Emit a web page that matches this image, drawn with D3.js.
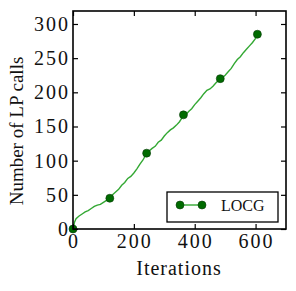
<!DOCTYPE html>
<html><head><meta charset="utf-8">
<script src="https://cdn.jsdelivr.net/npm/d3@7"></script>
<style>body{margin:0;background:#fff}svg{display:block}</style>
</head><body>
<svg id="c" width="296" height="291"></svg>
<script>
// Line data (iterations, number of LP calls)
const iters = [0,5,10,20,30,40,50,60,70,80,90,100,110,120,130,140,150,160,170,180,190,200,210,220,230,240,250,260,270,280,290,300,310,320,330,340,350,360,370,380,390,400,410,420,430,440,450,460,470,480,490,500,510,520,530,540,550,560,570,580,590,600,606];
const calls = [0,10,15,19,22,25,27,30,33,35,36,39,42,45,50,54,58,64,68,74,77,82,88,95,101,109,114,118,121,127,130,136,141,145,148,152,157,164,167,172,176,182,187,192,198,203,205,209,214,218,221,225,230,235,242,248,252,258,263,268,273,279,285];
// Marker points
const markIters = [0,121,242,363,484,606];
const markCalls = [0,45,111,167,220,285];
const xTicks = [0,200,400,600];
const yTicks = [0,50,100,150,200,250,300];
const seriesName = "LOCG";

const svg = d3.select("#c");
const L=73, R=286, T=11, B=229;
const x = d3.scaleLinear().domain([0,700]).range([L,R]);
const y = d3.scaleLinear().domain([0,319]).range([B,T]);
const font = "'Liberation Serif','Times New Roman',serif";

// line
const line = d3.line().x((d,i)=>x(iters[i])).y((d,i)=>y(calls[i]));
svg.append("path").datum(calls).attr("d",line)
  .attr("fill","none").attr("stroke","#33a833").attr("stroke-width",1.4);

// markers
svg.selectAll("circle.m").data(markCalls).enter().append("circle")
  .attr("cx",(d,i)=>x(markIters[i])).attr("cy",d=>y(d)).attr("r",4)
  .attr("fill","#006b00").attr("stroke","#0a3a0a").attr("stroke-width",0.6);

// axes (ticks inward, mirrored)
const tickStyle = g=>{g.select(".domain").remove();g.selectAll("line").attr("stroke","#000").attr("stroke-width",1.2);g.selectAll("text").remove();};
svg.append("g").attr("transform",`translate(0,${B})`).call(d3.axisBottom(x).tickValues(xTicks).tickSizeInner(-5).tickSizeOuter(0)).call(tickStyle);
svg.append("g").attr("transform",`translate(0,${T})`).call(d3.axisTop(x).tickValues(xTicks).tickSizeInner(-5).tickSizeOuter(0)).call(tickStyle);
svg.append("g").attr("transform",`translate(${L},0)`).call(d3.axisLeft(y).tickValues(yTicks).tickSizeInner(-5).tickSizeOuter(0)).call(tickStyle);
svg.append("g").attr("transform",`translate(${R},0)`).call(d3.axisRight(y).tickValues(yTicks).tickSizeInner(-5).tickSizeOuter(0)).call(tickStyle);

svg.append("rect").attr("x",L).attr("y",T).attr("width",R-L).attr("height",B-T)
  .attr("fill","none").attr("stroke","#000").attr("stroke-width",1.6);

// tick labels
svg.selectAll("text.xt").data(xTicks).enter().append("text")
  .attr("x",d=>x(d)+1).attr("y",B+19).attr("text-anchor","middle").attr("letter-spacing",2)
  .attr("font-family",font).attr("font-size",20).attr("fill","#111").text(d=>d);
svg.selectAll("text.yt").data(yTicks).enter().append("text")
  .attr("x",L-3).attr("y",d=>y(d)+7).attr("text-anchor","end").attr("letter-spacing",2)
  .attr("font-family",font).attr("font-size",20).attr("fill","#111").text(d=>d);

// axis titles
svg.append("text").attr("x",179).attr("y",275).attr("text-anchor","middle").attr("letter-spacing",1)
  .attr("font-family",font).attr("font-size",20).attr("fill","#111").text("Iterations");
svg.append("text").attr("transform","translate(23,131) rotate(-90)").attr("text-anchor","middle")
  .attr("font-family",font).attr("font-size",19).attr("fill","#111").text("Number of LP calls");

// legend
svg.append("rect").attr("x",167).attr("y",192).attr("width",111).attr("height",30)
  .attr("fill","#fff").attr("stroke","#000").attr("stroke-width",1.3);
svg.append("line").attr("x1",180).attr("x2",202).attr("y1",205).attr("y2",205)
  .attr("stroke","#33a833").attr("stroke-width",1.4);
svg.selectAll("circle.l").data([180,202]).enter().append("circle")
  .attr("cx",d=>d).attr("cy",205).attr("r",4)
  .attr("fill","#006b00").attr("stroke","#0a3a0a").attr("stroke-width",0.6);
svg.append("text").attr("x",221).attr("y",211).attr("font-family",font).attr("font-size",16)
  .attr("fill","#111").text(seriesName);
</script>
</body></html>
